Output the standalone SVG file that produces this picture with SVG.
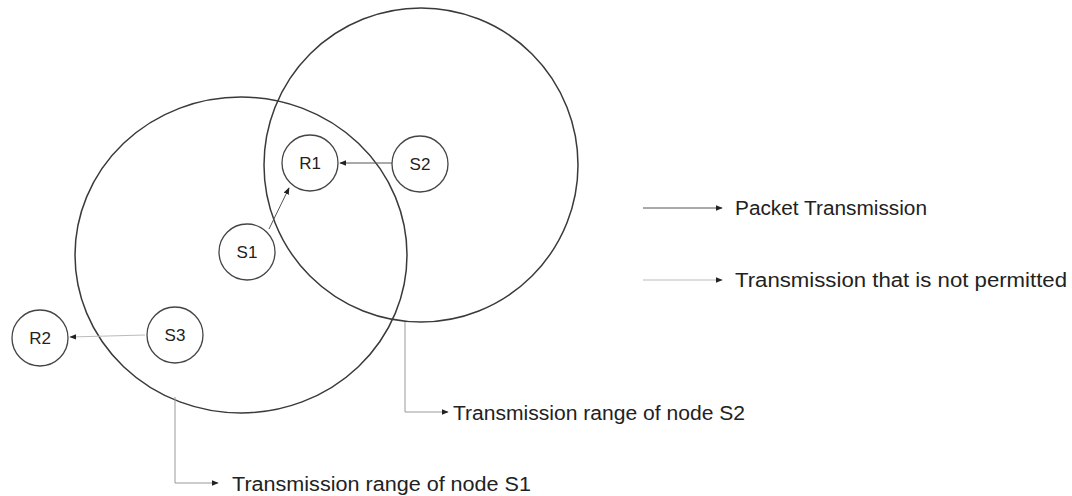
<svg xmlns="http://www.w3.org/2000/svg" width="1072" height="496" viewBox="0 0 1072 496">
<defs>
<style>
.range{fill:none;stroke:#3a3a3a;stroke-width:1.5}
.node{fill:#fff;stroke:#444;stroke-width:1.3}
.lbl{font-family:"Liberation Sans",Arial,sans-serif;font-size:17px;fill:#222;text-anchor:middle}
.txt{font-family:"Liberation Sans",Arial,sans-serif;font-size:20px;fill:#222}
.solid{fill:none;stroke:#555;stroke-width:1}
.faint{fill:none;stroke:#999;stroke-width:1}
.faint2{fill:none;stroke:#bbb;stroke-width:1}
</style>
<marker id="ah" viewBox="0 0 10 10" refX="9" refY="5" markerWidth="7" markerHeight="7" orient="auto" markerUnits="userSpaceOnUse">
<path d="M0,1 L10,5 L0,9 z" fill="#222"/>
</marker>
</defs>
<rect width="1072" height="496" fill="#fff"/>
<g id="range-s1"><ellipse class="range" cx="241" cy="255" rx="166" ry="158"/></g>
<g id="range-s2"><ellipse class="range" cx="421" cy="165" rx="157" ry="157"/></g>
<g id="connectors">
<line class="solid" x1="392" y1="163" x2="340" y2="163" marker-end="url(#ah)"/>
<line class="solid" x1="269" y1="229" x2="289" y2="188" marker-end="url(#ah)"/>
<line class="faint2" x1="145" y1="335" x2="70" y2="337" marker-end="url(#ah)"/>
<polyline class="faint" points="405,322 405,412 448,412" marker-end="url(#ah)"/>
<polyline class="faint" points="175,397 175,483 218,483" marker-end="url(#ah)"/>
<line class="solid" x1="643" y1="208" x2="722" y2="208" marker-end="url(#ah)"/>
<line class="faint2" x1="643" y1="280" x2="722" y2="280" marker-end="url(#ah)"/>
</g>
<g id="R1"><circle class="node" cx="310" cy="163" r="28"/><text class="lbl" x="310" y="169">R1</text></g>
<g id="S2"><circle class="node" cx="420" cy="164" r="28"/><text class="lbl" x="420" y="170">S2</text></g>
<g id="S1"><circle class="node" cx="247" cy="252" r="28"/><text class="lbl" x="247" y="258">S1</text></g>
<g id="S3"><circle class="node" cx="175" cy="335" r="28"/><text class="lbl" x="175" y="341">S3</text></g>
<g id="R2"><circle class="node" cx="40" cy="338" r="28"/><text class="lbl" x="40" y="344">R2</text></g>
<g id="legend">
<text class="txt" x="735" y="215" textLength="192" lengthAdjust="spacingAndGlyphs">Packet Transmission</text>
<text class="txt" x="735" y="287" textLength="332" lengthAdjust="spacingAndGlyphs">Transmission that is not permitted</text>
</g>
<g id="range-labels">
<text class="txt" x="453" y="420" textLength="292" lengthAdjust="spacingAndGlyphs">Transmission range of node S2</text>
<text class="txt" x="232" y="491" textLength="299" lengthAdjust="spacingAndGlyphs">Transmission range of node S1</text>
</g>
</svg>
